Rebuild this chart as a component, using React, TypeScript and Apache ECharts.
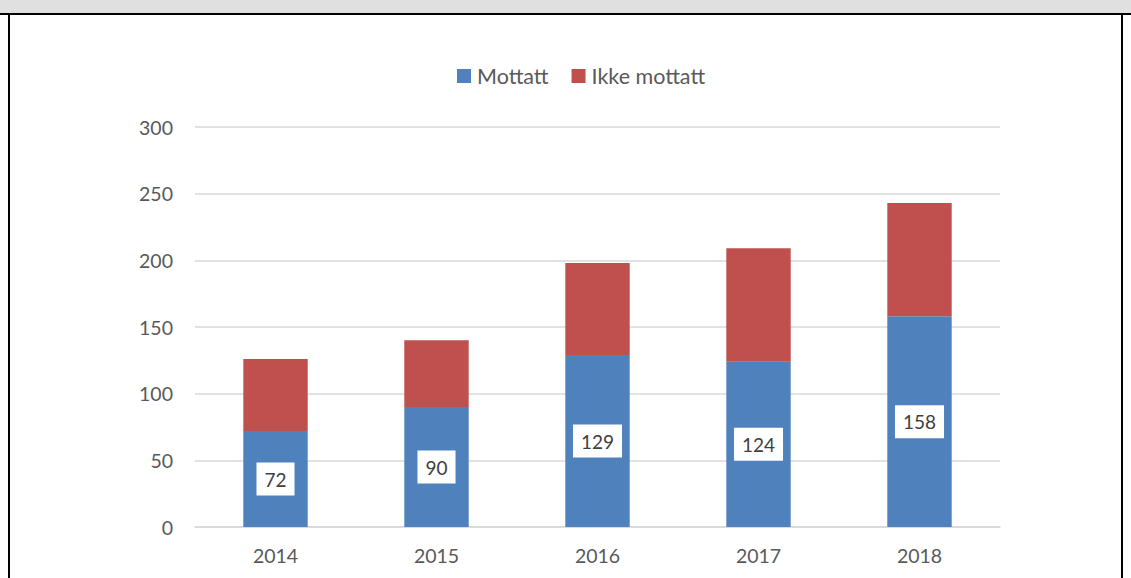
import React, { useEffect, useRef } from "react";
import * as echarts from "echarts";

const years = ["2014", "2015", "2016", "2017", "2018"];
const mottatt = [72, 90, 129, 124, 158];
const ikkeMottatt = [54, 50, 69, 85, 85];
const seriesNames = ["Mottatt", "Ikke mottatt"];
const colors = ["#4F81BD", "#C0504D"];

export default function App() {
  const ref = useRef<HTMLDivElement>(null);
  useEffect(() => {
    const chart = echarts.init(ref.current!, null, { renderer: "svg" });
    const font = "Lato, 'Open Sans', sans-serif";
    chart.setOption({
      animation: false,
      textStyle: { fontFamily: font },
      legend: {
        data: seriesNames,
        top: 65,
        left: 457,
        padding: 0,
        itemWidth: 14,
        itemHeight: 14,
        itemGap: 23,
        icon: "rect",
        textStyle: { color: "#595959", fontSize: 21.5, fontFamily: font, padding: [0, 0, 0, 1] },
      },
      grid: { left: 195, right: 131, top: 127, bottom: 51, containLabel: false },
      xAxis: {
        type: "category",
        data: years,
        axisLine: { lineStyle: { color: "#D9D9D9", width: 1.5 } },
        axisTick: { show: false },
        axisLabel: { color: "#595959", fontSize: 19.5, margin: 18, fontFamily: font },
      },
      yAxis: {
        type: "value",
        min: 0,
        max: 300,
        interval: 50,
        axisLine: { show: false },
        axisTick: { show: false },
        axisLabel: { color: "#595959", fontSize: 19.5, margin: 22, fontFamily: font },
        splitLine: { lineStyle: { color: "#D9D9D9", width: 1.5 } },
      },
      series: [
        {
          name: seriesNames[0],
          type: "bar",
          stack: "total",
          data: mottatt,
          barWidth: "40%",
          itemStyle: { color: colors[0] },
          label: {
            show: true,
            position: "inside",
            color: "#404040",
            fontSize: 19,
            fontFamily: font,
            backgroundColor: "#FFFFFF",
            padding: [7, 8, 7, 8],
          },
        },
        {
          name: seriesNames[1],
          type: "bar",
          stack: "total",
          data: ikkeMottatt,
          barWidth: "40%",
          itemStyle: { color: colors[1] },
        },
      ],
    });
    return () => chart.dispose();
  }, []);

  return (
    <div style={{ position: "absolute", left: 0, top: 0, width: 1131, height: 578, background: "#fff", overflow: "hidden" }}>
      <div style={{ position: "absolute", left: 0, top: 0, width: 1131, height: 13, background: "#E0E0E0" }} />
      <div style={{ position: "absolute", left: 0, top: 13, width: 1131, height: 2, background: "#000" }} />
      <div style={{ position: "absolute", left: 8, top: 13, width: 2, height: 565, background: "#000" }} />
      <div style={{ position: "absolute", left: 1121, top: 13, width: 2, height: 565, background: "#000" }} />
      <div ref={ref} style={{ position: "absolute", left: 0, top: 0, width: 1131, height: 578 }} />
    </div>
  );
}
